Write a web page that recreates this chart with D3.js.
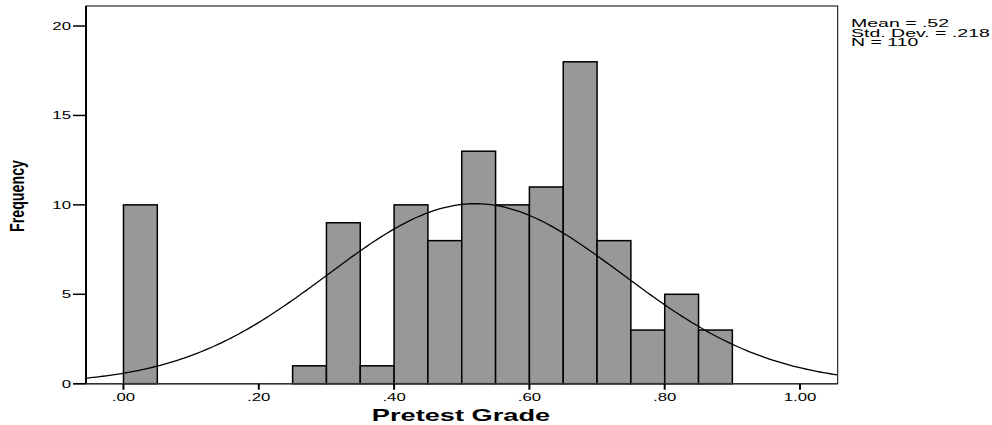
<!DOCTYPE html>
<html>
<head>
<meta charset="utf-8">
<script src="https://cdn.jsdelivr.net/npm/d3@7"></script>
<style>
  body { margin: 0; background: #fff; }
  text { font-family: "Liberation Sans", Arial, sans-serif; fill: #000; }
</style>
</head>
<body>
<svg width="992" height="425"></svg>
<script>
// histogram data (bins 0.05 wide)
var binStarts = [0.00, 0.25, 0.30, 0.35, 0.40, 0.45, 0.50, 0.55, 0.60, 0.65, 0.70, 0.75, 0.80, 0.85];
var counts    = [10,   1,    9,    1,    10,   8,    13,   10,   11,   18,   8,    3,    5,    3];
var binWidth = 0.05;

var xTicks = [0, 0.2, 0.4, 0.6, 0.8, 1.0];
var yTicks = [0, 5, 10, 15, 20];

var statMean = 0.52, statSd = 0.218, statN = 110;
var statLines = ["Mean = .52", "Std. Dev. = .218", "N = 110"];

var svg = d3.select("svg");
var sx = 1.6; // the SPSS text is stretched sideways

var pLeft = 86, pRight = 837.7, pTop = 6, pBottom = 383.7;

var x = d3.scaleLinear().domain([-0.0554, 1.0557]).range([pLeft, pRight]);
var y = d3.scaleLinear().domain([0, 21.12]).range([pBottom, pTop]);

// bars
svg.append("g").selectAll("rect")
    .data(binStarts)
    .enter().append("rect")
      .attr("x", function(d) { return x(d); })
      .attr("y", function(d, i) { return y(counts[i]); })
      .attr("width", function(d) { return x(d + binWidth) - x(d); })
      .attr("height", function(d, i) { return y(0) - y(counts[i]); })
      .attr("fill", "#989898")
      .attr("stroke", "#000")
      .attr("stroke-width", 1.5);

// normal curve
var dens = function(v) {
  var z = (v - statMean) / statSd;
  return statN * binWidth / (statSd * Math.sqrt(2 * Math.PI)) * Math.exp(-0.5 * z * z);
};
var curveX = d3.range(x.domain()[0], x.domain()[1] + 0.0001, 0.005);
svg.append("path")
    .datum(curveX)
    .attr("fill", "none")
    .attr("stroke", "#000")
    .attr("stroke-width", 1.3)
    .attr("d", d3.line().x(function(d) { return x(d); }).y(function(d) { return y(dens(d)); }));

// frame
svg.append("rect")
    .attr("x", pLeft).attr("y", pTop)
    .attr("width", pRight - pLeft).attr("height", pBottom - pTop)
    .attr("fill", "none").attr("stroke", "#000").attr("stroke-width", 1);

svg.append("line")
    .attr("x1", pLeft).attr("x2", pLeft).attr("y1", pTop).attr("y2", pBottom)
    .attr("stroke", "#000").attr("stroke-width", 2);
svg.append("line")
    .attr("x1", pLeft - 13).attr("x2", pRight).attr("y1", pBottom).attr("y2", pBottom)
    .attr("stroke", "#333").attr("stroke-width", 1.5);

// y axis ticks
var yAx = svg.append("g");
yAx.selectAll("line").data(yTicks).enter().append("line")
    .attr("x1", pLeft - 13).attr("x2", pLeft)
    .attr("y1", function(d) { return y(d); }).attr("y2", function(d) { return y(d); })
    .attr("stroke", "#000").attr("stroke-width", 1.5);
yAx.selectAll("text").data(yTicks).enter().append("text")
    .attr("transform", function(d) { return "translate(" + (pLeft - 15) + "," + (y(d) + 4) + ") scale(" + sx + ",1)"; })
    .attr("text-anchor", "end")
    .style("font-size", "10.5px")
    .text(function(d) { return d; });

// x axis ticks
var fmt = function(d) { return d3.format(".2f")(d).replace(/^0\./, "."); };
var xAx = svg.append("g");
xAx.selectAll("line").data(xTicks).enter().append("line")
    .attr("x1", function(d) { return x(d); }).attr("x2", function(d) { return x(d); })
    .attr("y1", pBottom).attr("y2", pBottom + 6)
    .attr("stroke", "#000").attr("stroke-width", 2);
xAx.selectAll("text").data(xTicks).enter().append("text")
    .attr("transform", function(d) { return "translate(" + x(d) + "," + (pBottom + 17) + ") scale(" + sx + ",1)"; })
    .attr("text-anchor", "middle")
    .style("font-size", "10.5px")
    .text(fmt);

// axis titles
svg.append("text")
    .attr("transform", "translate(461,421) scale(" + sx + ",1)")
    .attr("text-anchor", "middle")
    .style("font-size", "17px").style("font-weight", "bold")
    .text("Pretest Grade");

svg.append("text")
    .attr("transform", "translate(24,196) scale(" + sx + ",1) rotate(-90)")
    .attr("text-anchor", "middle")
    .style("font-family", "'Liberation Sans Narrow', 'Liberation Sans', sans-serif")
    .style("font-size", "13px").style("font-weight", "bold")
    .attr("textLength", 72).attr("lengthAdjust", "spacingAndGlyphs")
    .text("Frequency");

// stats box
svg.append("g").selectAll("text").data(statLines).enter().append("text")
    .attr("transform", function(d, i) { return "translate(851," + (27 + i * 9.5) + ") scale(1.95,1)"; })
    .style("font-size", "10px")
    .text(function(d) { return d; });
</script>
</body>
</html>
